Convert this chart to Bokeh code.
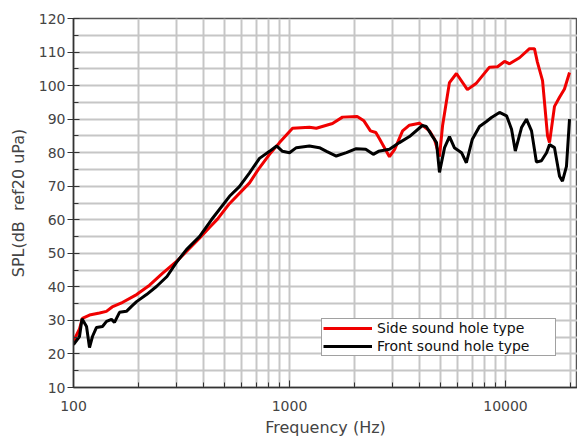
from bokeh.plotting import figure
from bokeh.models import Range1d, FixedTicker, Legend, LegendItem, NumeralTickFormatter
from bokeh.embed import file_html
from bokeh.resources import INLINE

# Side sound hole type (red)
side_freq = [100, 106.6, 110, 118.6, 132, 142, 151, 169, 196, 225, 258, 300, 345, 383,
             426, 464, 527, 653, 726, 808, 899, 1033, 1236, 1331, 1581, 1759, 2057, 2210,
             2370, 2510, 2616, 2902, 3068, 3338, 3591, 3996, 4445, 4690, 4946, 5111, 5502,
             5925, 6662, 7300, 8430, 9180, 9893, 10435, 11609, 12915, 13613, 14047, 14840,
             15651, 15985, 16855, 17784, 18750, 19785]
side_spl = [23.8, 27.5, 30.6, 31.6, 32.2, 32.7, 34.0, 35.4, 37.7, 40.5, 44.0, 47.6, 51.5, 54.5,
            57.7, 60.2, 64.8, 71.0, 75.5, 79.5, 83.0, 87.3, 87.6, 87.3, 88.7, 90.6, 90.8, 89.5,
            86.5, 86.0, 84.0, 78.8, 81.0, 86.5, 88.2, 88.8, 86.5, 84.0, 78.8, 88.0, 100.9,
            103.6, 98.8, 100.6, 105.5, 105.6, 107.2, 106.5, 108.3, 111.0, 111.0, 107.0, 101.5,
            85.0, 83.0, 93.8, 96.5, 99.0, 103.9]

# Front sound hole type (black)
front_freq = [100, 106.6, 109.5, 114.9, 118.6, 122.4, 127.8, 136.2, 142.2, 149.9, 154.8, 163.3,
              175.8, 185.6, 195.9, 217.8, 242.2, 270.9, 299.7, 333.3, 383.1, 435, 527.5, 586,
              653, 726, 808, 871, 928, 1000, 1076, 1236, 1375, 1484, 1646, 1834, 2037, 2253,
              2442, 2583, 2902, 3228, 3591, 4122, 4297, 4595, 4793, 4946, 5222, 5502, 5796,
              6258, 6588, 7012, 7577, 8160, 8611, 9379, 10113, 10663, 11100, 11860, 12500,
              13196, 13900, 14665, 15489, 15985, 16855, 17784, 18350, 19150, 19785]
front_spl = [22.8, 25.2, 30.5, 28.2, 21.9, 25.2, 27.9, 28.2, 29.7, 30.3, 29.4, 32.4,
             32.7, 34.2, 35.6, 37.7, 40.1, 43.1, 47.3, 51.1, 55.0, 60.0, 67.0, 69.9,
             74.0, 78.3, 80.4, 82.0, 80.4, 80.0, 81.5, 82.0, 81.5, 80.4, 79.0, 80.0, 81.2, 81.0,
             79.5, 80.4, 81.0, 83.0, 84.8, 88.1, 87.8, 84.8, 83.0, 74.1, 81.5, 84.8, 81.5,
             80.0, 77.0, 83.9, 87.8, 89.3, 90.5, 92.0, 91.0, 87.0, 80.5, 87.5, 90.0,
             86.5, 77.2, 77.6, 80.0, 82.4, 81.5, 73.0, 71.5, 75.9, 90.0]

x_major_ticks = [100, 1000, 10000]
x_minor_ticks = [m * d for d in (100, 1000, 10000) for m in range(2, 10) if m * d <= 20000]
y_major_ticks = list(range(10, 121, 10))
y_minor_ticks = list(range(15, 120, 10))

FONT = "DejaVu Sans"
GRID = "#c6c6c6"

p = figure(width=577, height=440, x_axis_type="log",
           x_range=Range1d(100, 21540), y_range=Range1d(10, 120),
           output_backend="svg", toolbar_location=None,
           min_border_left=73, min_border_right=0, min_border_top=18, min_border_bottom=53)

p.background_fill_color = "white"
p.border_fill_color = "white"
p.outline_line_color = "#555555"
p.outline_line_width = 1.5

p.xaxis.ticker = FixedTicker(ticks=x_major_ticks, minor_ticks=x_minor_ticks)
p.yaxis.ticker = FixedTicker(ticks=y_major_ticks, minor_ticks=y_minor_ticks)
p.xaxis.formatter = NumeralTickFormatter(format="0")

for g in (p.xgrid, p.ygrid):
    g.grid_line_color = GRID
    g.grid_line_width = 2
    g.minor_grid_line_color = GRID
    g.minor_grid_line_width = 2

for ax in (p.xaxis, p.yaxis):
    ax.axis_line_color = "#333333"
    ax.axis_line_width = 1.5
    ax.major_tick_line_color = "#333333"
    ax.minor_tick_line_color = "#333333"
    ax.major_label_text_font = FONT
    ax.major_label_text_font_size = "14px"
    ax.major_label_text_color = "#444444"
    ax.axis_label_text_font = FONT
    ax.axis_label_text_font_size = "16px"
    ax.axis_label_text_font_style = "normal"
    ax.axis_label_text_color = "#444444"

p.yaxis.major_tick_in = 6
p.yaxis.major_tick_out = 6
p.yaxis.minor_tick_in = 5
p.yaxis.minor_tick_out = 0
p.yaxis.major_label_standoff = 2
p.yaxis.axis_label = "SPL(dB\u00a0 ref20 uPa)"
p.yaxis.axis_label_standoff = 8

p.xaxis.major_tick_in = 7
p.xaxis.major_tick_out = 0
p.xaxis.minor_tick_in = 5
p.xaxis.minor_tick_out = 0
p.xaxis.major_label_standoff = 13
p.xaxis.axis_label = "Frequency (Hz)"
p.xaxis.axis_label_standoff = 4

r_side = p.line(side_freq, side_spl, line_color="#f00000", line_width=3)
r_front = p.line(front_freq, front_spl, line_color="#000000", line_width=3)

legend = Legend(items=[LegendItem(label="Side sound hole type", renderers=[r_side]),
                       LegendItem(label="Front sound hole type", renderers=[r_front])],
                location=(248, 31), orientation="vertical")
legend.padding = 1
legend.spacing = 2
legend.margin = 0
legend.glyph_width = 49
legend.glyph_height = 14
legend.label_height = 14
legend.label_width = 177
legend.label_standoff = 5
legend.label_text_font = FONT
legend.label_text_font_size = "14px"
legend.label_text_color = "#111111"
legend.border_line_color = "#444444"
legend.border_line_width = 1.5
legend.background_fill_color = "white"
legend.background_fill_alpha = 1.0
p.add_layout(legend, "center")

open("out.html", "w").write(file_html(p, INLINE))
